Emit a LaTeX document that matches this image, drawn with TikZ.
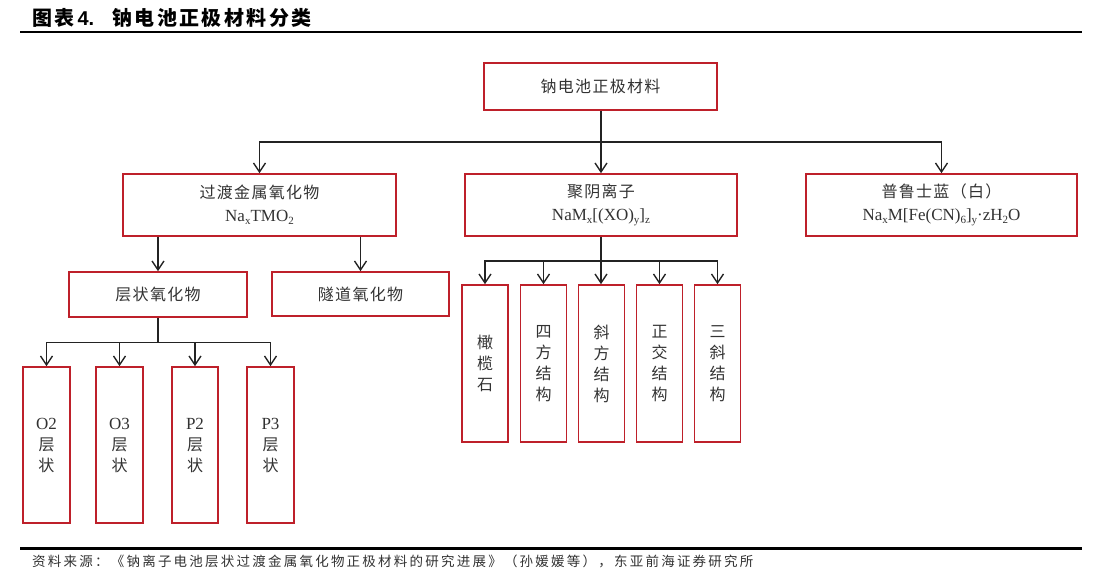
\documentclass[tikz,border=0pt]{standalone}
\usepackage{fontspec}
\setmainfont{Liberation Serif}
\newfontfamily\cjk[LetterSpace=8]{Noto Sans CJK SC}
\newfontfamily\cjkfoot[LetterSpace=16.5]{Noto Sans CJK SC}
\newfontfamily\cjktitle[LetterSpace=12]{Noto Sans CJK SC}
\newfontfamily\latbold{Liberation Sans}
\usetikzlibrary{arrows.meta}
\definecolor{boxred}{RGB}{190,32,42}
\definecolor{txt}{RGB}{50,50,50}
\definecolor{linec}{RGB}{35,35,35}
\newcommand\dn[1]{\raisebox{-0.35ex}{\fontsize{11}{11}\selectfont #1}}
\tikzset{
  box/.style={draw=boxred, line width=1.6pt, inner sep=0pt, align=center, text=txt,
    font=\fontsize{16}{23}\selectfont},
  vbox/.style={box, font=\fontsize{16}{21}\selectfont, minimum width=46pt, minimum height=156pt},
  conn/.style={draw=linec, line width=1.5pt},
  arr/.style={conn, -{Straight Barb[length=9pt,width=12pt,line width=1.4pt]}}
}
\begin{document}
\begin{tikzpicture}[x=1pt,y=-1pt]
\useasboundingbox (0,0) rectangle (1101,584);
% title
\node[anchor=west, inner sep=0pt, text=black] (title) at (32,18)
  {\cjktitle\bfseries\fontsize{20}{20}\selectfont 图表\hspace{3pt}{\latbold\bfseries 4.}\hspace{18pt}钠电池正极材料分类};
\draw[line width=2pt, black] (20,32) coordinate (t1) -- (1082,32) coordinate (t2);
% footer
\draw[line width=2.6pt, black] (20,548.5) coordinate (b1) -- (1082,548.5) coordinate (b2);
\node[anchor=west, inner sep=0pt, text=txt] (foot) at (32,561)
  {\cjkfoot\fontsize{13.5}{13.5}\selectfont 资料来源：《钠离子电池层状过渡金属氧化物正极材料的研究进展》（孙媛媛等），东亚前海证券研究所};

% level 0
\node[box, minimum width=233pt, minimum height=47pt] (root) at (600.5,86.5) {{\cjk 钠电池正极材料}};
% level 1
\node[box, minimum width=273pt, minimum height=62pt] (tmo) at (259.5,205)
  {{\cjk 过渡金属氧化物}\\{\fontsize{17}{23}\selectfont Na\dn{x}TMO\dn{2}}};
\node[box, minimum width=272pt, minimum height=62pt] (poly) at (601,205)
  {{\cjk 聚阴离子}\\{\fontsize{17}{23}\selectfont NaM\dn{x}[(XO)\dn{y}]\dn{z}}};
\node[box, minimum width=271pt, minimum height=62pt] (pb) at (941.5,205)
  {{\cjk 普鲁士蓝（白）}\\{\fontsize{17}{23}\selectfont Na\dn{x}M[Fe(CN)\dn{6}]\dn{y}·zH\dn{2}O}};
% level 2 under tmo
\node[box, minimum width=178pt, minimum height=45pt] (lay) at (158,294.5) {{\cjk 层状氧化物}};
\node[box, minimum width=177pt, minimum height=44pt] (tun) at (360.5,294) {{\cjk 隧道氧化物}};
% level 3 under layered
\node[vbox, minimum width=47pt] (o2) at (46.5,445) {{\fontsize{17}{21}\selectfont O2}\\{\cjk 层}\\{\cjk 状}};
\node[vbox, minimum width=47pt] (o3) at (119.5,445) {{\fontsize{17}{21}\selectfont O3}\\{\cjk 层}\\{\cjk 状}};
\node[vbox, minimum width=46pt] (p2) at (195,445) {{\fontsize{17}{21}\selectfont P2}\\{\cjk 层}\\{\cjk 状}};
\node[vbox, minimum width=47pt] (p3) at (270.5,445) {{\fontsize{17}{21}\selectfont P3}\\{\cjk 层}\\{\cjk 状}};
% level 2 under poly
\node[vbox, minimum height=157pt] (s1) at (485,363.5) {{\cjk 橄}\\{\cjk 榄}\\{\cjk 石}};
\node[vbox, minimum height=157pt] (s2) at (543.5,363.5) {{\cjk 四}\\{\cjk 方}\\{\cjk 结}\\{\cjk 构}};
\node[vbox, minimum height=157pt] (s3) at (601.5,363.5) {{\cjk 斜}\\{\cjk 方}\\{\cjk 结}\\{\cjk 构}};
\node[vbox, minimum height=157pt] (s4) at (659.5,363.5) {{\cjk 正}\\{\cjk 交}\\{\cjk 结}\\{\cjk 构}};
\node[vbox, minimum height=157pt] (s5) at (717.5,363.5) {{\cjk 三}\\{\cjk 斜}\\{\cjk 结}\\{\cjk 构}};

% connectors root
\coordinate (j0) at (601,142);
\draw[conn] (root.south -| j0) -- (j0);
\draw[arr] (j0) -| (tmo.north);
\draw[arr] (j0) -- (poly.north -| j0);
\draw[arr] (j0) -| (pb.north);
% tmo children
\draw[arr] (lay.north |- tmo.south) -- (lay.north);
\draw[arr] (tun.north |- tmo.south) -- (tun.north);
% layered children
\coordinate (j1) at (158,342.5);
\draw[conn] (lay.south) -- (j1);
\draw[arr] (j1) -| (o2.north);
\draw[arr] (j1) -| (o3.north);
\draw[arr] (j1) -| (p2.north);
\draw[arr] (j1) -| (p3.north);
% poly children
\coordinate (j2) at (601,261);
\draw[conn] (poly.south -| j2) -- (j2);
\draw[arr] (j2) -| (s1.north);
\draw[arr] (j2) -| (s2.north);
\draw[arr] (j2) -- (s3.north -| j2);
\draw[arr] (j2) -| (s4.north);
\draw[arr] (j2) -| (s5.north);
\end{tikzpicture}
\end{document}
